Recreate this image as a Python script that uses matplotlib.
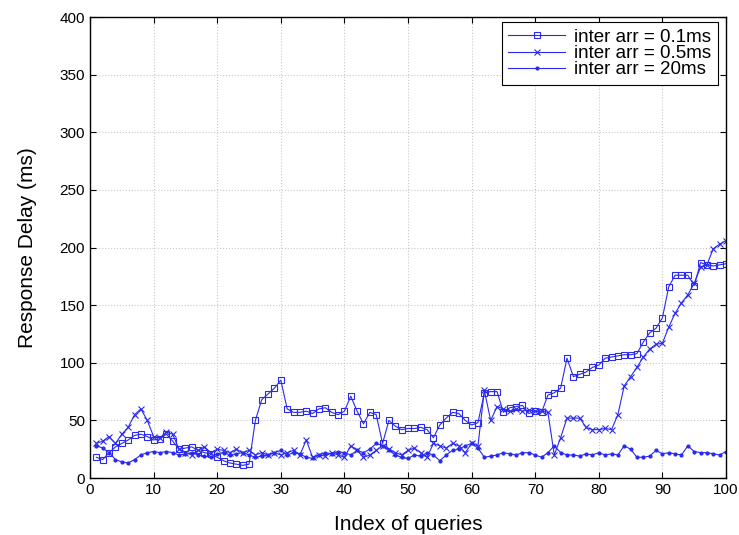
import matplotlib
matplotlib.use("Agg")
import matplotlib.pyplot as plt
import numpy as np

idx = list(range(1, 101))

s_01 = [18, 16, 22, 27, 30, 33, 37, 38, 36, 33,
        34, 38, 32, 25, 26, 27, 24, 22, 21, 18,
        15, 13, 12, 11, 12, 50, 68, 73, 78, 85,
        60, 57, 57, 58, 56, 60, 61, 57, 55, 58,
        71, 58, 47, 57, 55, 30, 50, 45, 42, 43,
        43, 44, 42, 35, 46, 52, 57, 56, 50, 46,
        48, 74, 75, 75, 57, 61, 62, 63, 56, 58,
        57, 72, 74, 78, 104, 88, 90, 92, 96, 98,
        104, 105, 106, 107, 107, 108, 118, 126, 130, 139,
        166, 176, 176, 176, 167, 187, 185, 184, 185, 186]

s_05 = [30, 32, 36, 30, 38, 44, 55, 60, 50, 36,
        35, 40, 38, 25, 22, 20, 24, 27, 22, 25,
        24, 22, 25, 22, 24, 20, 22, 20, 22, 20,
        22, 24, 20, 33, 18, 20, 19, 22, 20, 18,
        28, 24, 18, 20, 24, 28, 25, 22, 20, 24,
        26, 22, 18, 30, 28, 26, 30, 28, 22, 30,
        28, 76, 50, 62, 60, 58, 60, 58, 59, 58,
        58, 57, 20, 35, 52, 52, 52, 44, 42, 42,
        43, 42, 55, 80, 88, 96, 105, 112, 116, 117,
        131, 143, 152, 159, 169, 183, 185, 199, 203, 206]

s_20 = [28, 26, 22, 16, 14, 13, 16, 20, 22, 23,
        22, 23, 22, 20, 21, 22, 20, 19, 18, 21,
        22, 20, 21, 22, 20, 18, 19, 20, 22, 24,
        20, 22, 21, 18, 17, 20, 22, 21, 23, 22,
        20, 24, 22, 25, 30, 28, 24, 20, 18, 17,
        20, 19, 22, 20, 15, 20, 24, 25, 28, 30,
        26, 18, 19, 20, 22, 21, 20, 22, 22, 20,
        18, 22, 28, 22, 20, 20, 19, 21, 20, 22,
        20, 21, 20, 28, 25, 18, 18, 19, 24, 21,
        22, 21, 20, 28, 23, 22, 22, 21, 20, 23]

labels = ["inter arr = 0.1ms", "inter arr = 0.5ms", "inter arr = 20ms"]

plt.rcParams['font.family'] = ['Liberation Sans', 'DejaVu Sans']

fig = plt.figure(figsize=(7.39, 5.35), dpi=100)
ax = fig.add_axes([0.1218, 0.1065, 0.8606, 0.8615])

col = '#2a2aee'
ax.plot(idx, s_01, color=col, lw=0.8, marker='s', ms=5, mfc='none', mec=col, mew=0.8, label=labels[0])
ax.plot(idx, s_05, color=col, lw=0.8, marker='x', ms=4, mec=col, mew=0.8, label=labels[1])
ax.plot(idx, s_20, color=col, lw=0.8, marker='.', ms=4, label=labels[2])

ax.set_xlim(0, 100)
ax.set_ylim(0, 400)
ax.set_xticks(np.arange(0, 101, 10))
ax.set_yticks(np.arange(0, 401, 50))
ax.tick_params(direction='in', top=True, right=True, labelsize=11, length=4)
ax.grid(True, linestyle=':', color='#c8c8c8', lw=0.8)
for sp in ax.spines.values():
    sp.set_linewidth(1.0)

ax.set_xlabel("Index of queries", fontsize=15, labelpad=13)
ax.set_ylabel("Response Delay (ms)", fontsize=15, labelpad=16)

leg = ax.legend(loc='upper right', fontsize=13.5, fancybox=False, framealpha=1,
                edgecolor='black', borderpad=0.35, labelspacing=-0.05, handlelength=3.0,
                handletextpad=0.5, borderaxespad=0, bbox_to_anchor=(0.987, 0.989))
leg.get_frame().set_linewidth(0.8)

fig.savefig("out.png", dpi=100)
